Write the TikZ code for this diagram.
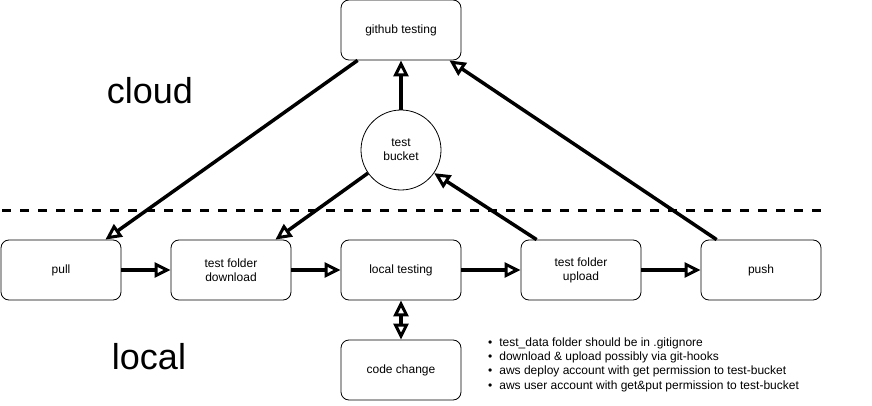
\documentclass[tikz,border=0pt]{standalone}
\usepackage{fontspec}
\setmainfont{Liberation Sans}
\usetikzlibrary{arrows.meta,calc}
\begin{document}
\begin{tikzpicture}[x=1pt,y=-1pt,
  box/.style={draw=black,line width=0.8pt,rounded corners=8pt,minimum width=120pt,minimum height=60pt,inner sep=0pt,align=center,font=\fontsize{12}{14}\selectfont},
  bucketnode/.style={draw=black,line width=0.8pt,circle,minimum size=80pt,inner sep=0pt,align=center,font=\fontsize{12}{14}\selectfont},
  conn/.style={line width=3.5pt,-{Triangle[fill=white,length=16pt,width=15pt,line width=3pt]}},
  biconn/.style={line width=3.5pt,{Triangle[fill=white,length=16pt,width=15pt,line width=3pt]}-{Triangle[fill=white,length=16pt,width=15pt,line width=3pt]}},
  bigtext/.style={font=\fontsize{36}{40}\selectfont,inner sep=0pt},
  bullettext/.style={font=\fontsize{12}{14}\selectfont,inner sep=0pt,anchor=west}
]
\useasboundingbox (0,0) rectangle (872,406);
\node[box] (github) at (401,30) {github testing};
\node[bucketnode] (bucket) at (401,150) {test\\bucket};
\node[box] (pull) at (61,270) {pull};
\node[box] (download) at (231,270) {test folder\\download};
\node[box] (local) at (401,270) {local testing};
\node[box] (upload) at (581,270) {test folder\\upload};
\node[box] (push) at (761,270) {push};
\node[box] (code) at (401,370) {code change};

\node[bigtext] (cloudlbl) at (150,91) {cloud};
\node[bigtext] (locallbl) at (149,357) {local};

\coordinate (dashA) at (2,210);
\coordinate (dashB) at (821,210);
\draw[line width=3pt,dash pattern=on 9pt off 9pt] (dashA) -- (dashB);

\draw[conn] ([xshift=17pt]github.south west) -- ([xshift=-16pt]pull.north east);
\draw[conn] (bucket.215) -- ([xshift=-16pt]download.north east);
\draw[conn] (bucket.north) -- (github.south);
\draw[conn] ([xshift=16pt]upload.north west) -- (bucket.325);
\draw[conn] ([xshift=16pt]push.north west) -- ([xshift=-12pt]github.south east);

\draw[conn] (pull.east) -- (download.west);
\draw[conn] (download.east) -- (local.west);
\draw[conn] (local.east) -- (upload.west);
\draw[conn] (upload.east) -- (push.west);
\draw[biconn] (local.south) -- (code.north);

\node[bullettext] (b1) at (488,343) {\textbullet\hspace{7pt}test\_data folder should be in .gitignore};
\node[bullettext] (b2) at (488,357) {\textbullet\hspace{7pt}download \& upload possibly via git-hooks};
\node[bullettext] (b3) at (488,371) {\textbullet\hspace{7pt}aws deploy account with get permission to test-bucket};
\node[bullettext] (b4) at (488,386) {\textbullet\hspace{7pt}aws user account with get\&put permission to test-bucket};
\end{tikzpicture}
\end{document}
